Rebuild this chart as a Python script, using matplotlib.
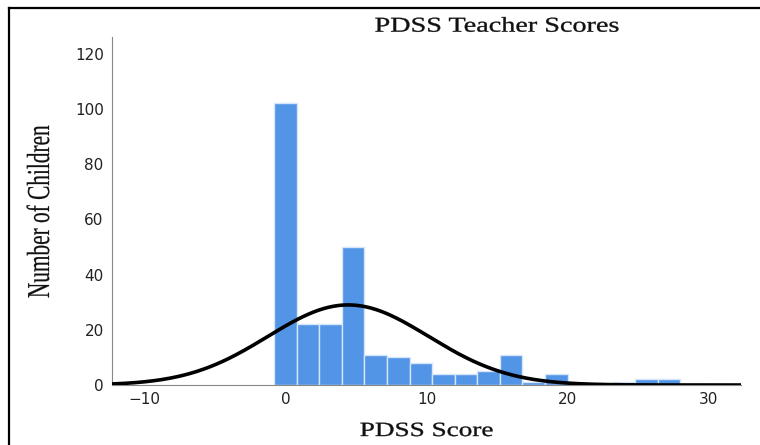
import matplotlib.pyplot as plt
import numpy as np
from matplotlib.lines import Line2D
from matplotlib.patheffects import AbstractPathEffect
from matplotlib.transforms import Affine2D

# histogram of PDSS teacher scores (bin width 1.6, first bin centred on 0)
bin_start = -0.8
bin_width = 1.6
counts = [102, 22, 22, 50, 11, 10, 8, 4, 4, 5, 11, 1, 4, 0, 0, 1, 2, 2]

# fitted normal curve
fit_mean = 4.45
fit_sd = 5.7

x_ticks = [-10, 0, 10, 20, 30]
y_ticks = [0, 20, 40, 60, 80, 100, 120]


class Stretch(AbstractPathEffect):
    """Stretch glyphs along the text direction about their centre (plus a thin stroke)."""

    def __init__(self, sx=1.0, sy=1.0, stroke=0.0):
        super().__init__()
        self.sx = sx
        self.sy = sy
        self.stroke = stroke

    def draw_path(self, renderer, gc, tpath, affine, rgbFace=None):
        ext = tpath.get_extents()
        cx = (ext.x0 + ext.x1) / 2
        cy = (ext.y0 + ext.y1) / 2
        t = Affine2D().translate(-cx, -cy).scale(self.sx, self.sy).translate(cx, cy) + affine
        gc0 = renderer.new_gc()
        gc0.copy_properties(gc)
        if self.stroke > 0 and rgbFace is not None:
            gc0.set_linewidth(self.stroke)
            gc0.set_foreground(rgbFace)
        renderer.draw_path(gc0, tpath, t, rgbFace)
        gc0.restore()


edges = bin_start + bin_width * np.arange(len(counts) + 1)
n_total = sum(counts)

fig = plt.figure(figsize=(7.6, 4.45), dpi=100)
ax = fig.add_axes([0.1474, 0.1348, 0.8276, 0.782])

ax.bar(edges[:-1], counts, width=bin_width, align='edge',
       color='#5294e6', edgecolor='#d6e6fa', linewidth=1.0, zorder=2)

xs = np.linspace(-12.3, 32.3, 400)
ys = n_total * bin_width / (fit_sd * np.sqrt(2 * np.pi)) * np.exp(-0.5 * ((xs - fit_mean) / fit_sd) ** 2)
ax.plot(xs, ys, color='black', linewidth=2.6, zorder=3, solid_capstyle='butt')

ax.set_xlim(-12.3, 32.3)
ax.set_ylim(0, 126)
ax.set_xticks(x_ticks)
ax.set_yticks(y_ticks)
ax.tick_params(length=0, labelsize=11, colors='#222222')
ax.tick_params(axis='x', pad=5)
ax.tick_params(axis='y', pad=6)

ax.spines['top'].set_visible(False)
ax.spines['right'].set_visible(False)
ax.spines['left'].set_color('#888888')
ax.spines['bottom'].set_color('#888888')
ax.spines['left'].set_linewidth(0.8)
ax.spines['bottom'].set_linewidth(0.8)

serif = 'Liberation Serif'
fig.text(497 / 760, 0.9288, 'PDSS Teacher Scores', fontfamily=serif, fontsize=15.2,
         ha='center', va='baseline', color='#111111',
         path_effects=[Stretch(sx=1.335, stroke=0.25)])
fig.text(426.5 / 760, 0.0202, 'PDSS Score', fontfamily=serif, fontsize=14.5,
         ha='center', va='baseline', color='#111111',
         path_effects=[Stretch(sx=1.35, stroke=0.25)])
fig.text(41.5 / 760, 0.5247, 'Number of Children', fontfamily=serif, fontsize=23,
         rotation=90, ha='center', va='center', color='#111111',
         path_effects=[Stretch(sx=0.667, stroke=0.15)])

# frame from the cropped document
fig.add_artist(Line2D([0.012, 1.0], [0.983, 0.983], color='black', linewidth=1.6))
fig.add_artist(Line2D([0.012, 0.012], [0.0, 0.983], color='black', linewidth=1.6))

fig.savefig('out.png', dpi=100)
